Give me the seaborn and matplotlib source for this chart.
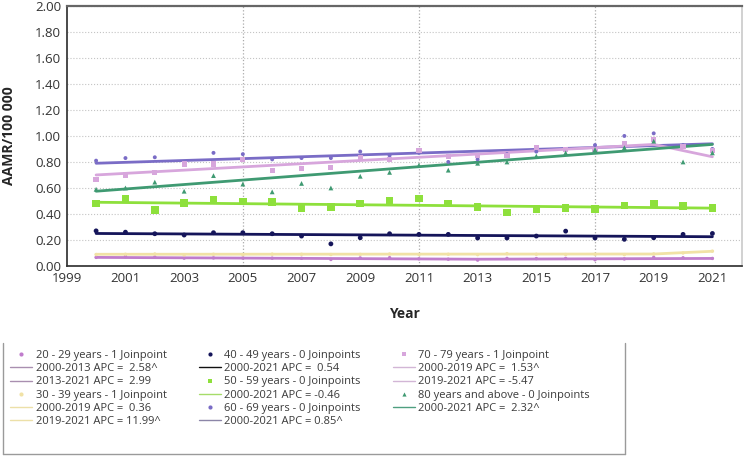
import numpy as np
import pandas as pd
import matplotlib
matplotlib.use("Agg")
import matplotlib.pyplot as plt
from matplotlib.lines import Line2D
from matplotlib.ticker import FormatStrFormatter
import seaborn as sns

years = list(range(2000, 2022))

obs_20_29 = [0.066, 0.072, 0.068, 0.060, 0.062, 0.061, 0.060, 0.059, 0.050, 0.062, 0.064,
             0.055, 0.052, 0.045, 0.058, 0.057, 0.058, 0.048, 0.054, 0.066, 0.063, 0.058]
obs_30_39 = [0.088, 0.090, 0.092, 0.085, 0.090, 0.087, 0.091, 0.090, 0.088, 0.089, 0.092,
             0.088, 0.090, 0.087, 0.095, 0.090, 0.088, 0.090, 0.087, 0.092, 0.100, 0.114]
obs_40_49 = [0.270, 0.260, 0.248, 0.238, 0.256, 0.256, 0.248, 0.230, 0.170, 0.217, 0.248,
             0.243, 0.243, 0.215, 0.215, 0.230, 0.268, 0.215, 0.205, 0.217, 0.243, 0.250]
obs_50_59 = [0.480, 0.520, 0.430, 0.486, 0.510, 0.496, 0.494, 0.445, 0.455, 0.480, 0.504,
             0.520, 0.480, 0.455, 0.410, 0.440, 0.448, 0.440, 0.465, 0.480, 0.460, 0.445]
obs_60_69 = [0.810, 0.830, 0.836, 0.790, 0.870, 0.860, 0.820, 0.830, 0.830, 0.880, 0.850,
             0.870, 0.800, 0.820, 0.860, 0.880, 0.890, 0.930, 1.000, 1.020, 0.930, 0.900]
obs_70_79 = [0.665, 0.700, 0.716, 0.785, 0.785, 0.820, 0.734, 0.747, 0.755, 0.830, 0.820,
             0.890, 0.845, 0.850, 0.850, 0.910, 0.895, 0.895, 0.940, 0.970, 0.920, 0.887]
obs_80 = [0.590, 0.600, 0.645, 0.575, 0.695, 0.630, 0.570, 0.635, 0.600, 0.690, 0.720,
          0.775, 0.737, 0.790, 0.800, 0.845, 0.870, 0.895, 0.910, 0.960, 0.800, 0.870]

# joinpoint fitted segments: (start year, end year, start value, end value)
fit_20_29 = [(2000, 2013, 0.066, 0.052), (2013, 2021, 0.052, 0.058)]
fit_30_39 = [(2000, 2019, 0.090, 0.092), (2019, 2021, 0.092, 0.113)]
fit_40_49 = [(2000, 2021, 0.250, 0.225)]
fit_50_59 = [(2000, 2021, 0.490, 0.445)]
fit_60_69 = [(2000, 2021, 0.790, 0.940)]
fit_70_79 = [(2000, 2019, 0.700, 0.935), (2019, 2021, 0.935, 0.840)]
fit_80 = [(2000, 2021, 0.575, 0.935)]

group_labels = ["20 - 29 years - 1 Joinpoint", "30 - 39 years - 1 Joinpoint",
                "40 - 49 years - 0 Joinpoints", "50 - 59 years - 0 Joinpoints",
                "60 - 69 years - 0 Joinpoints", "70 - 79 years - 1 Joinpoint",
                "80 years and above - 0 Joinpoints"]
segment_labels = [["2000-2013 APC =  2.58^", "2013-2021 APC =  2.99"],
                  ["2000-2019 APC =  0.36", "2019-2021 APC = 11.99^"],
                  ["2000-2021 APC =  0.54"],
                  ["2000-2021 APC = -0.46"],
                  ["2000-2021 APC = 0.85^"],
                  ["2000-2019 APC =  1.53^", "2019-2021 APC = -5.47"],
                  ["2000-2021 APC =  2.32^"]]

observed = [obs_20_29, obs_30_39, obs_40_49, obs_50_59, obs_60_69, obs_70_79, obs_80]
fits = [fit_20_29, fit_30_39, fit_40_49, fit_50_59, fit_60_69, fit_70_79, fit_80]

colors = ["#c07ccc", "#f1e2a6", "#15155a", "#8ee03c", "#7a6cc6", "#d7a6dc", "#3f9a72"]
legend_line_colors = ["#a98fb0", "#ece0a8", "#111111", "#a6dc6a", "#8c86a8", "#d2b6d6", "#4f9f80"]
markers = ["o", "o", "o", "s", "o", "s", "^"]
msizes = [6, 6, 12, 30, 8, 14, 12]

sns.set_theme(style="white")
plt.rcParams['font.family'] = ['Open Sans', 'DejaVu Sans']

fig = plt.figure(figsize=(7.5, 4.57), dpi=100)
ax = fig.add_axes([0.089, 0.418, 0.900, 0.569])

for i in range(len(observed)):
    df = pd.DataFrame({"Year": years, "AAMR": observed[i]})
    sns.scatterplot(data=df, x="Year", y="AAMR", ax=ax, color=colors[i], marker=markers[i],
                    s=msizes[i], edgecolor="none", zorder=3, legend=False)
    for (y0, y1, v0, v1) in fits[i]:
        seg = pd.DataFrame({"Year": [y0, y1], "AAMR": [v0, v1]})
        sns.lineplot(data=seg, x="Year", y="AAMR", ax=ax, color=colors[i], lw=2.0,
                     zorder=2, legend=False)

ax.set_xlim(1999, 2022)
ax.set_ylim(0, 2.0)
ax.set_xticks(range(1999, 2022, 2))
ax.set_yticks(np.arange(0, 2.01, 0.2))
ax.yaxis.set_major_formatter(FormatStrFormatter("%.2f"))
ax.tick_params(axis="both", labelsize=9.5, colors="#333333", length=0, pad=4)
ax.grid(axis="y", color="#c4c4c4", linestyle=":", linewidth=0.8)
for xv in [2005, 2011, 2017]:
    ax.axvline(xv, color="#aaaaaa", linestyle=":", linewidth=0.9, zorder=1)

ax.spines["top"].set_color("#666666")
ax.spines["top"].set_linewidth(1.6)
ax.spines["left"].set_color("#333333")
ax.spines["bottom"].set_color("#333333")
ax.spines["right"].set_color("#cccccc")

ax.set_xlabel("Year", fontsize=10, fontweight="bold", labelpad=16)
ax.set_ylabel("AAMR/100 000", fontsize=10, fontweight="bold", labelpad=14)

handles, labels = [], []
for i in range(len(observed)):
    handles.append(Line2D([], [], linestyle="none", marker=markers[i], color=colors[i],
                          markersize=3, markeredgewidth=0))
    labels.append(group_labels[i])
    for lab in segment_labels[i]:
        handles.append(Line2D([], [], color=legend_line_colors[i], lw=1.0))
        labels.append(lab)

W, H = 750.0, 457.0
leg = fig.legend(handles, labels, ncol=3, loc="upper left",
                 bbox_to_anchor=(10 / W, 1 - 350 / H, 580 / W, 0.0), mode="expand",
                 fontsize=8, frameon=False,
                 handlelength=2.0, handletextpad=0.3, labelspacing=0.2,
                 borderaxespad=0.0, borderpad=0.0, columnspacing=1.0)
for t in leg.get_texts():
    t.set_color("#3a3a3a")

# legend box outline (left, bottom, right edges as in the reference)
box_x0, box_x1 = 3 / W, 625 / W
box_y0, box_y1 = 1 - 454 / H, 1 - 343 / H
for xs, ys in [([box_x0, box_x0], [box_y0, box_y1]),
               ([box_x0, box_x1], [box_y0, box_y0]),
               ([box_x1, box_x1], [box_y0, box_y1])]:
    fig.add_artist(Line2D(xs, ys, transform=fig.transFigure, color="#9a9a9a", lw=1.0))

fig.savefig("out.png", dpi=100)
